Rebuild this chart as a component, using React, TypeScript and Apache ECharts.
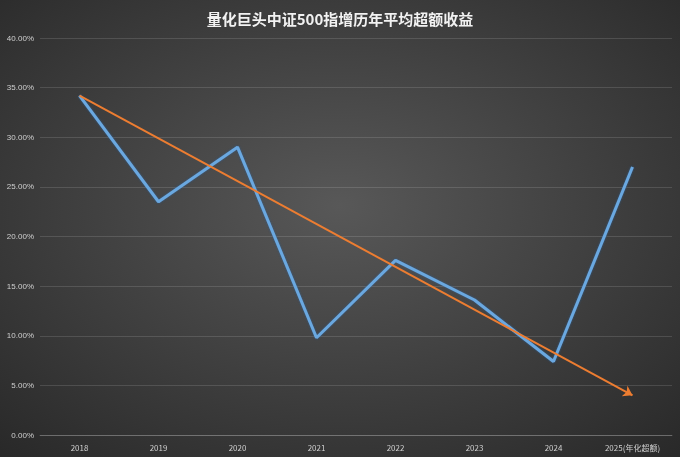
import React, { useEffect, useRef } from 'react';
import * as echarts from 'echarts';

const years = ['2018', '2019', '2020', '2021', '2022', '2023', '2024', '2025(年化超额)'];
const excessReturn = [34.2, 23.5, 29.0, 9.8, 17.6, 13.6, 7.4, 27.0];
const trendStart = 34.2;
const trendEnd = 4.0;

const App: React.FC = () => {
  const chartRef = useRef<HTMLDivElement>(null);

  useEffect(() => {
    if (!chartRef.current) return;
    const chart = echarts.init(chartRef.current, undefined, { renderer: 'svg' });

    const options: echarts.EChartsOption = {
      animation: false,
      backgroundColor: {
        type: 'radial',
        x: 0.5,
        y: 0.45,
        r: 0.75,
        colorStops: [
          { offset: 0, color: '#585858' },
          { offset: 1, color: '#282828' }
        ]
      } as any,
      title: {
        text: '量化巨头中证500指增历年平均超额收益',
        left: 'center',
        top: 6,
        textStyle: {
          color: '#f2f2f2',
          fontSize: 15,
          fontWeight: 'bold',
          fontFamily: 'Noto Sans CJK SC'
        }
      },
      grid: { left: 40, right: 8, top: 38, bottom: 22 },
      xAxis: {
        type: 'category',
        data: years,
        axisTick: { show: false },
        axisLine: { lineStyle: { color: 'rgba(255,255,255,0.2)' } },
        axisLabel: { color: '#d0d0d0', fontSize: 8, margin: 8, fontFamily: 'Noto Sans CJK SC' }
      },
      yAxis: {
        type: 'value',
        min: 0,
        max: 40,
        interval: 5,
        axisLine: { show: false },
        axisTick: { show: false },
        axisLabel: {
          color: '#d0d0d0',
          fontSize: 8,
          margin: 6,
          formatter: (v: number) => v.toFixed(2) + '%'
        },
        splitLine: { lineStyle: { color: 'rgba(255,255,255,0.13)' } }
      },
      series: [
        {
          type: 'line',
          data: excessReturn,
          symbol: 'none',
          lineStyle: {
            color: '#6aa8e0',
            width: 3,
            shadowColor: 'rgba(40,90,150,0.8)',
            shadowBlur: 2
          },
          markLine: {
            silent: true,
            symbol: ['none', 'arrow'],
            symbolSize: 9,
            label: { show: false },
            lineStyle: { color: '#ed7d31', width: 2, type: 'solid' },
            data: [
              [
                { coord: [years[0], trendStart] },
                { coord: [years[years.length - 1], trendEnd] }
              ]
            ]
          }
        }
      ]
    };

    chart.setOption(options);
    return () => {
      chart.dispose();
    };
  }, []);

  return (
    <div
      ref={chartRef}
      style={{ position: 'fixed', left: 0, top: 0, width: 680, height: 457 }}
    />
  );
};

export default App;
